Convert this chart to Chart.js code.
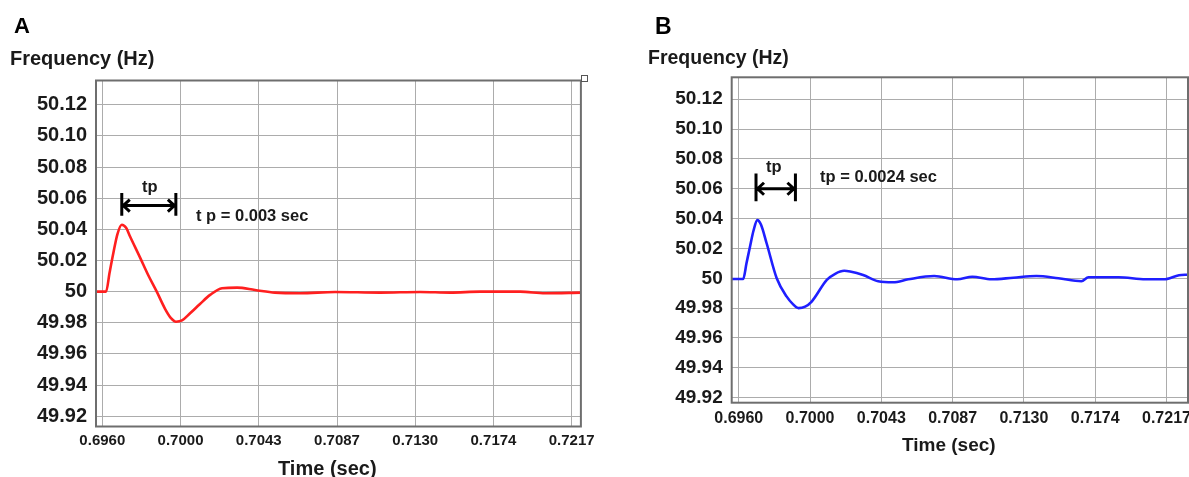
<!DOCTYPE html>
<html>
<head>
<meta charset="utf-8">
<script src="https://cdn.jsdelivr.net/npm/chart.js"></script>
<style>
  html, body { margin: 0; padding: 0; background: #fff; overflow: hidden; }
  body { width: 1189px; height: 477px; position: relative; font-family: "Liberation Sans", Arial, sans-serif; }
  .wrap { position: absolute; top: 0; width: 600px; height: 477px; }
  .lbl { position: absolute; font-weight: bold; color: #1a1a1a; line-height: 1; white-space: nowrap; }
  .mark { position: absolute; width: 5px; height: 5px; border: 1px solid #555; background: #fff; }
</style>
</head>
<body>
<div class="wrap" style="left:0"><canvas id="chart-a" width="600" height="477"></canvas></div>
<div class="wrap" style="left:600px"><canvas id="chart-b" width="600" height="477"></canvas></div>

<div class="lbl" style="left:14px;top:15px;font-size:22px;color:#000">A</div>
<div class="lbl" style="left:655px;top:15px;font-size:23px;color:#000">B</div>
<div class="lbl" style="left:10px;top:48px;font-size:20px">Frequency (Hz)</div>
<div class="lbl" style="left:648px;top:48px;font-size:19.5px">Frequency (Hz)</div>
<div class="lbl" style="left:278px;top:458px;font-size:20px">Time (sec)</div>
<div class="lbl" style="left:902px;top:435px;font-size:19px">Time (sec)</div>
<div class="lbl" style="left:142px;top:178px;font-size:16.5px">tp</div>
<div class="lbl" style="left:196px;top:207px;font-size:16.5px">t p = 0.003 sec</div>
<div class="lbl" style="left:766px;top:158px;font-size:16.5px">tp</div>
<div class="lbl" style="left:820px;top:168px;font-size:16.5px">tp = 0.0024 sec</div>
<div class="mark" style="left:581px;top:75px"></div>

<script>
// tick labels (same on both panels)
const timeLabels = ['0.6960', '0.7000', '0.7043', '0.7087', '0.7130', '0.7174', '0.7217'];
const freqLabels = ['49.92', '49.94', '49.96', '49.98', '50', '50.02', '50.04', '50.06', '50.08', '50.10', '50.12'];

// panel A (red)
const timeA = [0.69531, 0.69587, 0.69606, 0.69627, 0.69650, 0.69674, 0.69698, 0.69720, 0.69775, 0.69819,
  0.69868, 0.69914, 0.69947, 0.69975, 0.70008, 0.70053, 0.70108, 0.70164, 0.70230, 0.70314,
  0.70413, 0.70524, 0.70663, 0.70857, 0.71107, 0.71329, 0.71496, 0.71662, 0.71884, 0.72023, 0.72221];
const freqA = [50.0, 50.0, 50.012, 50.0247, 50.037, 50.043, 50.041, 50.0354, 50.022, 50.011,
  50.0, 49.989, 49.983, 49.9807, 49.9815, 49.9861, 49.9921, 49.9979, 50.0022, 50.0026,
  50.0011, 49.9994, 49.999, 49.9998, 49.9994, 49.9998, 49.9994, 50.0, 50.0, 49.999, 49.9994];

// panel B (blue)
const timeB = [0.69523, 0.69593, 0.69613, 0.69634, 0.69656, 0.69679, 0.69701, 0.69736, 0.69797, 0.69858,
  0.69897, 0.69929, 0.69970, 0.70010, 0.70102, 0.70153, 0.70208, 0.70244, 0.70323, 0.70415,
  0.70506, 0.70598, 0.70756, 0.70896, 0.70988, 0.71104, 0.71238, 0.71378, 0.71512, 0.71652,
  0.71695, 0.71878, 0.72043, 0.72153, 0.72246, 0.72301];
const freqB = [49.9995, 49.9995, 50.010, 50.021, 50.032, 50.039, 50.036, 50.0233, 50.0, 49.9877,
  49.9825, 49.98, 49.981, 49.9844, 49.9989, 50.003, 50.005, 50.0045, 50.0022, 49.998,
  49.9973, 49.9993, 50.0015, 49.9993, 50.001, 49.9993, 50.0004, 50.0015, 50.0, 49.998,
  50.0007, 50.0007, 49.9993, 49.9993, 50.002, 50.0024];

// tp arrows: [start time, end time], and [arrow level, bar top, bar bottom]
const tpA = [0.69674, 0.69974];
const tpLevelA = [50.0553, 50.0633, 50.0487];
const tpB = [0.69671, 0.69911];
const tpLevelB = [50.060, 50.0702, 50.0517];

// ticks sit on an even grid, the labels are rounded from it
const step = (parseFloat(timeLabels[6]) - parseFloat(timeLabels[1])) / 5;
const timeTicks = timeLabels.map((l, i) => parseFloat(timeLabels[1]) + (i - 1) * step);
const freqTicks = freqLabels.map(l => parseFloat(l));

const FONT = '"Liberation Sans", Arial, sans-serif';

const framePlugin = {
  id: 'frame',
  afterDraw(chart, args, opts) {
    const { ctx, chartArea: a, scales: { x, y } } = chart;
    ctx.save();
    ctx.strokeStyle = '#6e6e6e';
    ctx.lineWidth = 2;
    ctx.strokeRect(a.left, a.top, a.right - a.left, a.bottom - a.top);

    const x0 = x.getPixelForValue(opts.tp[0]);
    const x1 = x.getPixelForValue(opts.tp[1]);
    const yl = y.getPixelForValue(opts.level[0]);
    const yt = y.getPixelForValue(opts.level[1]);
    const yb = y.getPixelForValue(opts.level[2]);
    ctx.strokeStyle = '#000';
    ctx.lineWidth = 3;
    ctx.beginPath();
    ctx.moveTo(x0, yt); ctx.lineTo(x0, yb);
    ctx.moveTo(x1, yt); ctx.lineTo(x1, yb);
    ctx.moveTo(x0, yl); ctx.lineTo(x1, yl);
    ctx.moveTo(x0 + 8, yl - 6); ctx.lineTo(x0 + 1.5, yl); ctx.lineTo(x0 + 8, yl + 6);
    ctx.moveTo(x1 - 8, yl - 6); ctx.lineTo(x1 - 1.5, yl); ctx.lineTo(x1 - 8, yl + 6);
    ctx.stroke();
    ctx.restore();
  }
};

function makeChart(id, times, freqs, color, cfg) {
  const points = times.map((t, i) => ({ x: t, y: freqs[i] }));
  return new Chart(document.getElementById(id), {
    type: 'line',
    data: {
      datasets: [{
        data: points,
        borderColor: color,
        borderWidth: 2.6,
        pointRadius: 0,
        cubicInterpolationMode: 'monotone',
        fill: false
      }]
    },
    plugins: [framePlugin],
    options: {
      responsive: false,
      animation: false,
      events: [],
      layout: { padding: { top: cfg.top, right: cfg.right, left: 0, bottom: 0 } },
      plugins: {
        legend: { display: false },
        tooltip: { enabled: false },
        frame: { tp: cfg.tp, level: cfg.level }
      },
      scales: {
        x: {
          type: 'linear',
          min: cfg.xmin,
          max: cfg.xmax,
          afterFit: s => { s.height = cfg.xh; },
          afterBuildTicks: s => { s.ticks = timeTicks.map(v => ({ value: v })); },
          border: { display: false },
          grid: { color: '#acacac', lineWidth: 1, drawTicks: false },
          ticks: {
            autoSkip: false,
            maxRotation: 0,
            padding: cfg.xpad,
            color: '#1a1a1a',
            font: { family: FONT, size: cfg.xfont, weight: 'bold' },
            callback: (v, i) => timeLabels[i]
          }
        },
        y: {
          min: cfg.ymin,
          max: cfg.ymax,
          afterFit: s => { s.width = cfg.yw; },
          afterBuildTicks: s => { s.ticks = freqTicks.map(v => ({ value: v })); },
          border: { display: false },
          grid: { color: '#acacac', lineWidth: 1, drawTicks: false },
          ticks: {
            autoSkip: false,
            padding: 9,
            color: '#1a1a1a',
            font: { family: FONT, size: cfg.yfont, weight: 'bold' },
            callback: (v, i) => freqLabels[i]
          }
        }
      }
    }
  });
}

makeChart('chart-a', timeA, freqA, '#ff1f1f', {
  top: 80.5, right: 19, yw: 96, xh: 50.5,
  xmin: 0.69531, xmax: 0.72221, ymin: 49.9134, ymax: 50.1356,
  xpad: 5, xfont: 15, yfont: 20,
  tp: tpA, level: tpLevelA
});

makeChart('chart-b', timeB, freqB, '#1f1fff', {
  top: 77.3, right: 12, yw: 131.7, xh: 74.3,
  xmin: 0.69523, xmax: 0.72301, ymin: 49.9166, ymax: 50.1347,
  xpad: 6, xfont: 16, yfont: 19,
  tp: tpB, level: tpLevelB
});
</script>
</body>
</html>
